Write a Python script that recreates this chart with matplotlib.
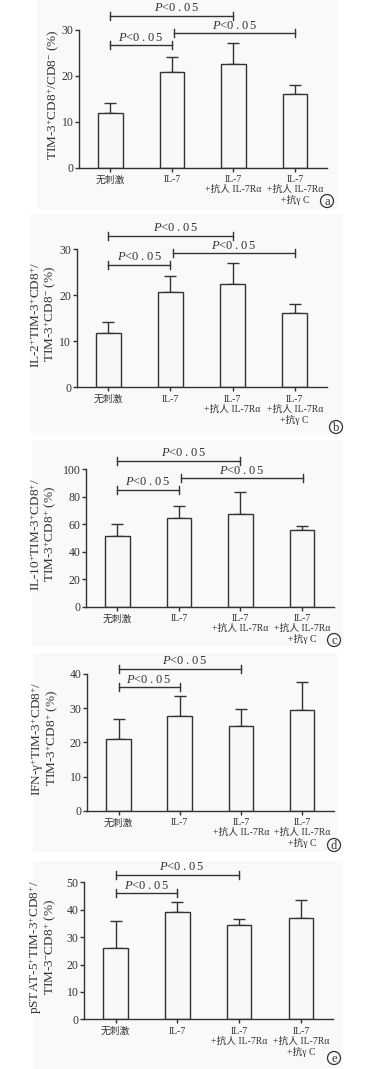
import matplotlib
matplotlib.use("Agg")
import matplotlib.pyplot as plt
from matplotlib.patches import Rectangle, Ellipse

plt.rcParams['font.family'] = ['Liberation Serif', 'Noto Sans CJK SC', 'DejaVu Sans']
plt.rcParams['mathtext.fontset'] = 'custom'
plt.rcParams['mathtext.rm'] = 'Liberation Serif'
plt.rcParams['mathtext.it'] = 'Liberation Serif:italic'

# ---------------- data ----------------
categories = ["无刺激", "IL-7", "IL-7\n+抗人 IL-7Rα", "IL-7\n+抗人 IL-7Rα\n+抗γ C"]

a_mean = [11.9, 20.8, 22.5, 16.1]
a_top = [14.2, 24.2, 27.1, 18.1]
b_mean = [11.9, 20.7, 22.5, 16.1]
b_top = [14.2, 24.3, 27.0, 18.1]
c_mean = [51.5, 64.6, 67.2, 55.8]
c_top = [60.0, 73.0, 83.5, 58.5]
d_mean = [20.9, 27.6, 24.7, 29.5]
d_top = [26.7, 33.5, 29.7, 37.7]
e_mean = [26.0, 39.0, 34.4, 37.1]
e_top = [35.8, 42.7, 36.7, 43.4]

a_ticks = [0, 10, 20, 30]
b_ticks = [0, 10, 20, 30]
c_ticks = [0, 20, 40, 60, 80, 100]
d_ticks = [0, 10, 20, 30, 40]
e_ticks = [0, 10, 20, 30, 40, 50]

# comparisons: (group i, group j, bracket level)
a_comp = [(0, 2, 33.1), (0, 1, 26.7), (1.04, 3.0, 29.3)]
b_comp = [(0, 2, 32.9), (0, 1, 26.6), (1.04, 3.0, 29.1)]
c_comp = [(0, 2, 106.3), (0, 1, 85.0), (1.04, 3.02, 93.5)]
d_comp = [(0, 2, 41.5), (0, 1, 36.1)]
e_comp = [(0, 2, 52.8), (0, 1, 46.0)]

a_label = "TIM-3$^{+}$CD8$^{+}$/CD8$^{-}$ (%)"
b_label = "IL-2$^{+}$TIM-3$^{+}$CD8$^{+}$/\nTIM-3$^{+}$CD8$^{-}$ (%)"
c_label = "IL-10$^{+}$TIM-3$^{+}$CD8$^{+}$/\nTIM-3$^{+}$CD8$^{+}$ (%)"
d_label = "IFN-γ$^{+}$TIM-3$^{+}$CD8$^{+}$/\nTIM-3$^{+}$CD8$^{+}$ (%)"
e_label = "pSTAT-5$^{+}$TIM-3$^{+}$CD8$^{+}$/\nTIM-3$^{-}$CD8$^{+}$ (%)"
panel_letters = ["a", "b", "c", "d", "e"]

# ---------------- layout ----------------
W, H = 376, 1069
fig = plt.figure(figsize=(W / 100, H / 100), dpi=100)
fig.patch.set_facecolor("white")

INK = "#333333"
ptxt = "$P$<0\u2009.\u20090\u20095"

def px_rect(l, t, r, b):
    return [l / W, 1 - b / H, (r - l) / W, (b - t) / H]

# faint panel backgrounds
for (l, t, r, b) in [(37, 0, 337, 210), (30, 214, 343, 433), (32, 440, 343, 646),
                     (33, 653, 337, 852), (33, 861, 342, 1069)]:
    fig.patches.append(Rectangle((l / W, 1 - b / H), (r - l) / W, (b - t) / H,
                                 transform=fig.transFigure, facecolor="#f9f9f9",
                                 edgecolor="none", zorder=-10))

panels = [
    (a_mean, a_top, a_ticks, a_comp, a_label, (79, 30, 327, 167.7), 54, (327, 201)),
    (b_mean, b_top, b_ticks, b_comp, b_label, (76.7, 249.3, 327, 387.3), 44, (336, 427)),
    (c_mean, c_top, c_ticks, c_comp, c_label, (86, 469.3, 334, 606.7), 44, (334, 640)),
    (d_mean, d_top, d_ticks, d_comp, d_label, (87.3, 674, 334, 810.7), 45, (334, 845)),
    (e_mean, e_top, e_ticks, e_comp, e_label, (84, 882.3, 333, 1019.3), 43, (334, 1058)),
]

for k, (mean, top, ticks, comps, ylabel, box, labx, circ) in enumerate(panels):
    l, t, r, b = box
    ax = fig.add_axes(px_rect(l, t, r, b))
    ax.set_facecolor("none")
    x = list(range(len(categories)))
    ax.bar(x, mean, width=0.4, facecolor="#f8f8f8", edgecolor=INK, linewidth=1.0, zorder=2)
    up = [tp - m for tp, m in zip(top, mean)]
    ax.errorbar(x, mean, yerr=[[0] * len(mean), up], fmt="none", ecolor=INK,
                elinewidth=1.0, capsize=4.5, capthick=1.0, zorder=1)
    ax.set_xlim(-0.51, 3.52)
    ax.set_ylim(ticks[0], ticks[-1])
    ax.set_yticks(ticks)
    ax.set_xticks(x)
    ax.set_xticklabels(categories, fontsize=7, color=INK, linespacing=1.1)
    ax.tick_params(axis="y", labelsize=8.5, colors=INK, length=3, width=1.0, pad=1)
    ax.tick_params(axis="x", length=3, width=1.0, pad=2.5, colors=INK)
    for s in ["top", "right"]:
        ax.spines[s].set_visible(False)
    for s in ["left", "bottom"]:
        ax.spines[s].set_color(INK)
        ax.spines[s].set_linewidth(1.0)

    # y label
    cy = (t + b) / 2 - 4
    fig.text(labx / W, 1 - cy / H, ylabel, rotation=90, ha="center", va="center",
             fontsize=9.5, color=INK, linespacing=0.95)

    # significance brackets
    ppu = (b - t) / (ticks[-1] - ticks[0])
    xpu = (r - l) / (3.52 + 0.51)
    tick_h = 4 / ppu
    for (x1, x2, y) in comps:
        ax.plot([x1, x2], [y, y], color=INK, lw=1.0, clip_on=False)
        ax.plot([x1, x1], [y - tick_h, y + tick_h], color=INK, lw=1.0, clip_on=False)
        ax.plot([x2, x2], [y - tick_h, y + tick_h], color=INK, lw=1.0, clip_on=False)
        shift = 5 / xpu if (x2 - x1) > 1.5 and x1 < 0.5 else 0
        ax.text((x1 + x2) / 2 + shift, y + 1.5 / ppu, ptxt, ha="center", va="bottom",
                fontsize=9, color=INK, clip_on=False)

    # panel letter in circle
    fig.text(circ[0] / W, 1 - circ[1] / H - 0.6 / H, panel_letters[k], ha="center",
             va="center", fontsize=9, color=INK)
    fig.patches.append(
        Ellipse((circ[0] / W, 1 - circ[1] / H), 13 / W, 13 / H,
                transform=fig.transFigure, facecolor="none", edgecolor=INK, lw=0.9))

fig.savefig("out.png", dpi=100)
